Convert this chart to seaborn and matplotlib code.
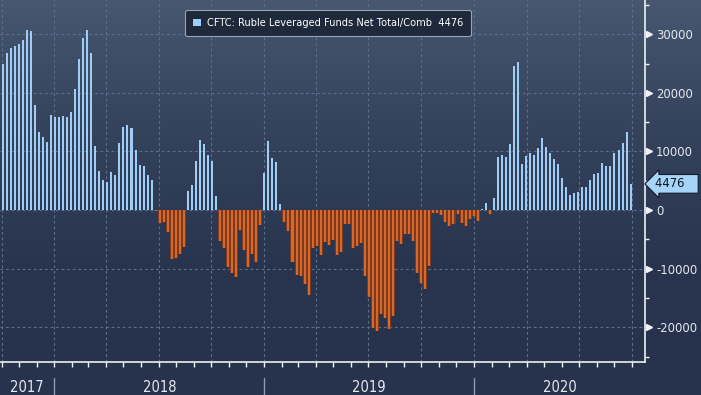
import matplotlib
matplotlib.use("Agg")
import matplotlib.pyplot as plt
import matplotlib.transforms as mtransforms
from matplotlib.colors import LinearSegmentedColormap
from matplotlib.patches import Patch
import numpy as np
import pandas as pd
import seaborn as sns

# weekly CFTC reports, first bar dated below
FIRST_REPORT = "2017-10-03"
net_positions = [
    25000, 26800, 27600, 28000, 28300, 29100, 30700, 30500, 18000, 13400,
    12400, 11700, 16300, 15800, 15800, 16100, 15900, 16800, 20700, 25800,
    29400, 30700, 26800, 10900, 6600, 5100, 4750, 6500, 6000, 11400,
    14200, 14500, 14000, 10200, 7700, 7500, 6000, 5100, -200, -2200,
    -2050, -3750, -8350, -8200, -7500, -6300, 3250, 4250, 8350, 11900,
    11250, 9400, 8350, 2400, -5300, -6500, -9700, -10700, -11400, -3400,
    -6800, -9700, -7500, -8900, -2550, 6300, 11800, 8900, 8200, 1000,
    -2050, -3600, -8900, -11100, -11250, -12600, -14500, -6500, -6150, -7700,
    -5500, -6000, -5150, -7700, -7200, -2400, -2400, -6500, -6150, -5650,
    -11300, -14900, -20100, -20700, -17650, -18350, -20250, -18150, -5300, -5850,
    -4100, -4100, -5300, -10650, -12400, -13450, -9550, -500, -500, -850,
    -2050, -2750, -2400, -700, -2200, -2750, -1550, -1000, -1900, 200,
    1200, -700, 2050, 9000, 9350, 9000, 11200, 24650, 25350, 7800,
    9200, 9700, 9350, 10550, 12250, 10700, 9700, 8650, 7800, 5450,
    3900, 2550, 2900, 3050, 3900, 3900, 5100, 6100, 6300, 8000,
    7500, 7500, 9700, 10200, 11400, 13250, 4476,
]
year_labels = ["2017", "2018", "2019", "2020"]
series_label = "CFTC: Ruble Leveraged Funds Net Total/Comb"

POS_COLOR = "#9fcdf5"
NEG_COLOR = "#d8682a"
NEG_SHADE = "#7b3a1d"
GRID_COLOR = "#5a6f8c"
AXIS_COLOR = "#eef1f5"
TEXT_COLOR = "#e6eaf0"
NUM_FONT = {"family": "DejaVu Sans", "stretch": "condensed", "size": 9.3}


def week_pos(dates, start):
    # calendar date -> fractional bar index
    return (pd.to_datetime(dates) - start).days / 7.0


sns.set_theme(style="ticks")
plt.rcParams["font.family"] = ["DejaVu Sans"]
plt.rcParams["axes.unicode_minus"] = False

start = pd.Timestamp(FIRST_REPORT)
df = pd.DataFrame({"week": np.arange(len(net_positions)), "net": net_positions})
pos = df[df["net"] >= 0]
neg = df[df["net"] < 0]

fig = plt.figure(figsize=(7.01, 3.95), dpi=100)

bg = fig.add_axes([0, 0, 1, 1], zorder=0)
grad = np.linspace(0, 1, 256).reshape(-1, 1)
cmap = LinearSegmentedColormap.from_list("bbg", ["#47576f", "#34425c", "#29354f", "#27324c"])
bg.imshow(grad, aspect="auto", cmap=cmap, extent=[0, 1, 0, 1], origin="upper")
bg.axis("off")

ax = fig.add_axes([0, 1 - 361.7 / 395, 645 / 701, 361.7 / 395], zorder=1)
ax.set_facecolor("none")

sns.barplot(data=neg, x="week", y="net", native_scale=True, width=1.0, color=NEG_SHADE,
            saturation=1, linewidth=0, errorbar=None, ax=ax)
sns.barplot(data=neg, x="week", y="net", native_scale=True, width=0.5, color=NEG_COLOR,
            saturation=1, linewidth=0, errorbar=None, ax=ax)
sns.barplot(data=pos, x="week", y="net", native_scale=True, width=0.5, color=POS_COLOR,
            saturation=1, linewidth=0, errorbar=None, ax=ax)

x_lo, x_hi = -0.67, 159.58
ax.set_xlim(x_lo, x_hi)
ax.set_ylim(-25870, 35850)
ax.set_xlabel("")
ax.set_ylabel("")

# dotted grid: quarters and every 10000
for q in week_pos(pd.date_range("2017-10-01", "2020-10-01", freq="QS"), start):
    ax.axvline(q, color=GRID_COLOR, ls=(0, (2.5, 2.5)), lw=0.8, zorder=0.5)
yticks = list(range(-20000, 30001, 10000))
for v in yticks:
    ax.axhline(v, color=GRID_COLOR, ls=(0, (2.5, 2.5)), lw=0.8, zorder=0.5)

for side in ["top", "left"]:
    ax.spines[side].set_visible(False)
for side in ["right", "bottom"]:
    ax.spines[side].set_color(AXIS_COLOR)
    ax.spines[side].set_linewidth(1.2)

months = pd.date_range("2017-10-01", "2020-10-01", freq="MS")
ax.set_xticks(week_pos(months, start))
ax.tick_params(axis="x", which="major", direction="out", length=3.5, width=1,
               color=AXIS_COLOR, bottom=True, labelbottom=False)

ax.yaxis.tick_right()
ax.set_yticks(yticks)
ax.set_yticks(range(-25000, 35001, 5000), minor=True)
ax.set_yticklabels([str(v) for v in yticks], fontdict=NUM_FONT)
ax.tick_params(axis="y", which="major", length=0, pad=8, labelcolor=TEXT_COLOR,
               left=False, right=True)
ax.tick_params(axis="y", which="minor", direction="out", length=3, width=1, color=AXIS_COLOR,
               left=False, right=True)

# triangle markers on the major y ticks
tri = mtransforms.blended_transform_factory(ax.transAxes, ax.transData)
shift = mtransforms.ScaledTranslation(0.035, 0, fig.dpi_scale_trans)
ax.plot(np.ones(len(yticks)), yticks, ls="none", marker=">", ms=5, color=AXIS_COLOR,
        transform=tri + shift, clip_on=False)

# year labels under the axis, split by thin separators
yr = mtransforms.blended_transform_factory(ax.transData, ax.transAxes)
for label in year_labels:
    a = max(week_pos([f"{label}-01-01"], start)[0], x_lo)
    b = min(week_pos([f"{int(label) + 1}-01-01"], start)[0], x_hi)
    ax.text((a + b) / 2, -0.072, label, transform=yr, ha="center", va="center",
            color=TEXT_COLOR, clip_on=False, fontdict=dict(NUM_FONT, size=10.5))
    if a > x_lo:
        ax.plot([a, a], [-0.045, -0.095], transform=yr, color="#8f9aac", lw=1, clip_on=False)

# last value tag on the right axis
ax.text(1.0, net_positions[-1], f"{net_positions[-1]}   ",
        transform=tri + mtransforms.ScaledTranslation(0.1, 0, fig.dpi_scale_trans),
        ha="left", va="center", color="#0d1420", clip_on=False, fontdict=NUM_FONT,
        bbox=dict(boxstyle="larrow,pad=0.22", facecolor="#a6d3f8", edgecolor="#121a28", lw=0.8))

handle = Patch(facecolor=POS_COLOR, edgecolor="none", label=f"{series_label}  {net_positions[-1]}")
leg = ax.legend(handles=[handle], loc="upper left", bbox_to_anchor=(185 / 701, 1 - 10 / 395),
                bbox_transform=fig.transFigure, frameon=True, fancybox=True, framealpha=1,
                facecolor="#1e293b", edgecolor="#9aa3b2", prop={"family": "DejaVu Sans", "size": 7.1},
                labelcolor="white", handlelength=0.8, handleheight=0.8, handletextpad=0.6,
                borderpad=0.8, borderaxespad=0)
leg.get_frame().set_linewidth(0.8)

fig.savefig("out.png", dpi=100)
